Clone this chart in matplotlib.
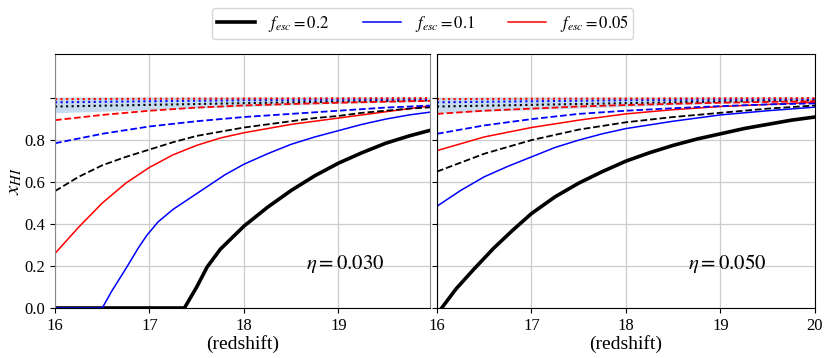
import numpy as np
import matplotlib
matplotlib.use('Agg')
import matplotlib.pyplot as plt

plt.rcParams['font.family'] = ['Liberation Serif', 'DejaVu Serif']
plt.rcParams['mathtext.fontset'] = 'stix'

# ---------------------------
# Daten
# ---------------------------
fesc_labels = ['$f_{esc}=0.2$', '$f_{esc}=0.1$', '$f_{esc}=0.05$']
eta_labels = [r'$\eta=0.030$', r'$\eta=0.050$']

# Panel 1: eta = 0.030
z1_black = [16.0, 17.37, 17.5, 17.61, 17.75, 18.0, 18.25, 18.5, 18.75, 19.0, 19.25, 19.5, 19.75, 20.0]
x1_black = [0.0, 0.0, 0.10, 0.195, 0.28, 0.39, 0.48, 0.56, 0.63, 0.69, 0.74, 0.785, 0.82, 0.85]
z1_blue = [16.0, 16.5, 16.6, 16.76, 16.88, 16.97, 17.09, 17.25, 17.4, 17.6, 17.8, 18.0, 18.25, 18.5, 18.75, 19.0, 19.25, 19.5, 19.75, 20.0]
x1_blue = [0.0, 0.0, 0.08, 0.195, 0.285, 0.345, 0.41, 0.47, 0.515, 0.575, 0.635, 0.685, 0.735, 0.78, 0.815, 0.845, 0.875, 0.9, 0.92, 0.935]
z1_red = [16.0, 16.25, 16.5, 16.75, 17.0, 17.25, 17.5, 17.75, 18.0, 18.25, 18.5, 18.75, 19.0, 19.25, 19.5, 19.75, 20.0]
x1_red = [0.26, 0.385, 0.50, 0.595, 0.67, 0.73, 0.775, 0.81, 0.835, 0.855, 0.875, 0.89, 0.905, 0.92, 0.935, 0.95, 0.965]
z1_dash = [16.0, 16.25, 16.5, 16.75, 17.0, 17.25, 17.5, 17.75, 18.0, 18.25, 18.5, 18.75, 19.0, 19.25, 19.5, 19.75, 20.0]
x1_black_d = [0.557, 0.625, 0.68, 0.72, 0.755, 0.79, 0.82, 0.84, 0.86, 0.875, 0.89, 0.905, 0.915, 0.93, 0.94, 0.95, 0.957]
z1_d2 = [16.0, 16.5, 17.0, 17.5, 18.0, 18.5, 19.0, 19.5, 20.0]
x1_blue_d = [0.785, 0.83, 0.865, 0.89, 0.91, 0.925, 0.94, 0.955, 0.965]
x1_red_d = [0.895, 0.92, 0.94, 0.955, 0.965, 0.972, 0.978, 0.983, 0.987]

# Panel 2: eta = 0.050
z2_black = [16.05, 16.2, 16.38, 16.6, 16.8, 17.0, 17.25, 17.5, 17.75, 18.0, 18.25, 18.5, 18.75, 19.0, 19.25, 19.5, 19.75, 20.0]
x2_black = [0.0, 0.09, 0.18, 0.285, 0.37, 0.45, 0.53, 0.595, 0.65, 0.70, 0.74, 0.775, 0.805, 0.83, 0.855, 0.875, 0.895, 0.91]
z2_blue = [16.0, 16.25, 16.5, 16.75, 17.0, 17.25, 17.5, 17.75, 18.0, 18.5, 19.0, 19.5, 20.0]
x2_blue = [0.485, 0.56, 0.625, 0.675, 0.72, 0.765, 0.80, 0.83, 0.855, 0.89, 0.92, 0.94, 0.957]
z2_half = [16.0, 16.5, 17.0, 17.5, 18.0, 18.5, 19.0, 19.5, 20.0]
x2_red = [0.75, 0.815, 0.86, 0.895, 0.925, 0.945, 0.96, 0.97, 0.98]
x2_black_d = [0.65, 0.735, 0.80, 0.85, 0.885, 0.91, 0.93, 0.95, 0.965]
x2_blue_d = [0.83, 0.87, 0.90, 0.925, 0.94, 0.952, 0.962, 0.97, 0.975]
x2_red_d = [0.925, 0.94, 0.95, 0.96, 0.967, 0.973, 0.978, 0.982, 0.985]

# Band und punktierte Linien oben (beide Panels)
z_top = [16.0, 17.0, 18.0, 19.0, 20.0]
band_low = [0.93, 0.945, 0.96, 0.975, 0.985]
band_high = [1.005, 1.005, 1.005, 1.005, 1.005]
x_red_dot = [0.995, 0.997, 0.998, 0.999, 1.0]
x_blue_dot = [0.98, 0.985, 0.99, 0.993, 0.995]
x_black_dot = [0.96, 0.968, 0.976, 0.984, 0.99]

# ---------------------------
# Plot
# ---------------------------
fig = plt.figure(figsize=(8.3, 3.58), dpi=100)
ax1 = fig.add_axes([0.0663, 0.1397, 0.4518, 0.7093])
ax2 = fig.add_axes([0.5265, 0.1397, 0.4554, 0.7093])

panels = [
    (ax1, (z1_black, x1_black), (z1_blue, x1_blue), (z1_red, x1_red),
     (z1_dash, x1_black_d), (z1_d2, x1_blue_d), (z1_d2, x1_red_d)),
    (ax2, (z2_black, x2_black), (z2_blue, x2_blue), (z2_half, x2_red),
     (z2_half, x2_black_d), (z2_half, x2_blue_d), (z2_half, x2_red_d)),
]

handles = []
for i, (ax, bk, bl, rd, bkd, bld, rdd) in enumerate(panels):
    ax.fill_between(z_top, band_low, band_high, color='#c6dcee', lw=0, zorder=1)
    ax.plot(z_top, x_black_dot, color='black', ls=':', lw=1.5, zorder=2)
    ax.plot(z_top, x_blue_dot, color='blue', ls=':', lw=1.5, zorder=2)
    ax.plot(z_top, x_red_dot, color='red', ls=':', lw=1.5, zorder=2)

    h1, = ax.plot(bk[0], bk[1], color='black', lw=2.6, label=fesc_labels[0])
    h2, = ax.plot(bl[0], bl[1], color='blue', lw=1.1, label=fesc_labels[1])
    h3, = ax.plot(rd[0], rd[1], color='red', lw=1.1, label=fesc_labels[2])
    ax.plot(bkd[0], bkd[1], color='black', ls='--', lw=1.3)
    ax.plot(bld[0], bld[1], color='blue', ls='--', lw=1.3)
    ax.plot(rdd[0], rdd[1], color='red', ls='--', lw=1.3)
    if i == 0:
        handles = [h1, h2, h3]

    ax.set_ylim(0, 1.21)
    ax.set_yticks([0, 0.2, 0.4, 0.6, 0.8, 1.0])
    ax.grid(True, color='#cccccc', lw=0.9)
    ax.set_xlabel('(redshift)', fontsize=14, labelpad=1)
    ax.tick_params(labelsize=12)
    ax.text(19.07, 0.21, eta_labels[i], fontsize=15, ha='center', va='center')

ax1.set_xlim(16, 19.97)
ax1.set_xticks([16, 17, 18, 19])
ax1.set_yticklabels(['0.0', '0.2', '0.4', '0.6', '0.8', ''])
ax1.set_ylabel('$x_{HI}$', fontsize=15, labelpad=0)
ax1.spines['left'].set_color('#888888')
ax1.spines['right'].set_color('#888888')

ax2.set_xlim(16, 20)
ax2.set_xticks([16, 17, 18, 19, 20])
ax2.set_yticklabels([])

fig.legend(handles=handles, loc='upper center', bbox_to_anchor=(0.509, 1.0),
           ncol=3, fontsize=12, handlelength=2.3, columnspacing=2.0,
           borderpad=0.3, fancybox=True)

plt.savefig('out.png', dpi=100)
